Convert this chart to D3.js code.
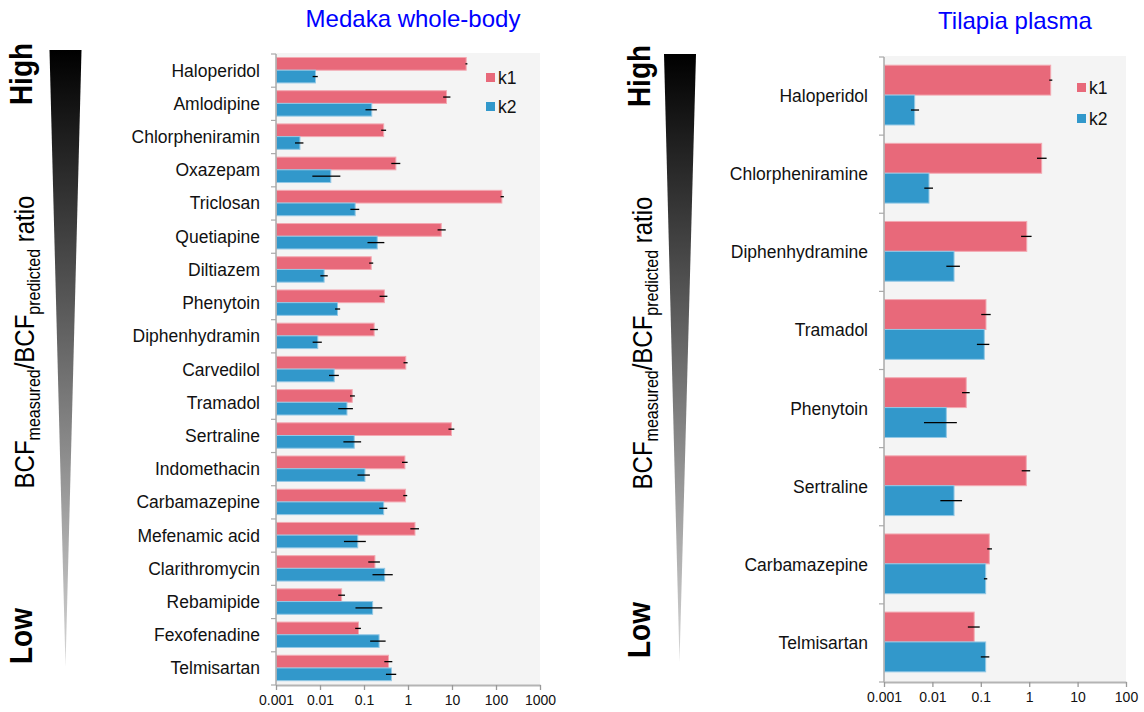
<!DOCTYPE html>
<html>
<head>
<meta charset="utf-8">
<script src="https://cdn.jsdelivr.net/npm/d3@7"></script>
<style>
  body { margin: 0; background: #fff; }
  svg { display: block; font-family: "Liberation Sans", Arial, sans-serif; }
  .tick text { font-size: 14px; fill: #111; }
</style>
</head>
<body>
<svg id="chart" width="1144" height="712"></svg>
<script>
// ---- data ----
const medakaNames = ["Haloperidol", "Amlodipine", "Chlorpheniramin", "Oxazepam", "Triclosan", "Quetiapine",
  "Diltiazem", "Phenytoin", "Diphenhydramin", "Carvedilol", "Tramadol", "Sertraline", "Indomethacin",
  "Carbamazepine", "Mefenamic acid", "Clarithromycin", "Rebamipide", "Fexofenadine", "Telmisartan"];
const medakaK1   = [21, 7.5, 0.28, 0.53, 136, 5.7, 0.146, 0.29, 0.17, 0.89, 0.054, 9.7, 0.85, 0.88, 1.44, 0.177, 0.031, 0.075, 0.36];
const medakaK1Lo = [20.2, 6.3, 0.246, 0.417, 127, 4.7, 0.131, 0.226, 0.138, 0.79, 0.048, 8.3, 0.73, 0.78, 1.13, 0.125, 0.026, 0.063, 0.29];
const medakaK1Hi = [22.4, 9.2, 0.318, 0.668, 151, 7.2, 0.162, 0.34, 0.207, 0.98, 0.062, 11.3, 0.98, 0.96, 1.78, 0.23, 0.037, 0.085, 0.44];
const medakaK2   = [0.0079, 0.15, 0.0035, 0.0176, 0.063, 0.2, 0.0124, 0.025, 0.0089, 0.021, 0.041, 0.06, 0.105, 0.28, 0.072, 0.295, 0.157, 0.22, 0.42];
const medakaK2Lo = [0.0068, 0.108, 0.0027, 0.0067, 0.049, 0.12, 0.0102, 0.022, 0.0068, 0.016, 0.026, 0.034, 0.071, 0.222, 0.035, 0.156, 0.064, 0.138, 0.315];
const medakaK2Hi = [0.0089, 0.196, 0.0042, 0.029, 0.078, 0.29, 0.015, 0.0287, 0.011, 0.0268, 0.056, 0.086, 0.136, 0.337, 0.11, 0.45, 0.26, 0.31, 0.54];

const tilapiaNames = ["Haloperidol", "Chlorpheniramine", "Diphenhydramine", "Tramadol", "Phenytoin", "Sertraline", "Carbamazepine", "Telmisartan"];
const tilapiaK1   = [2.78, 1.81, 0.89, 0.128, 0.05, 0.87, 0.15, 0.073];
const tilapiaK1Lo = [2.6, 1.45, 0.68, 0.102, 0.041, 0.7, 0.136, 0.054];
const tilapiaK1Hi = [3.0, 2.29, 1.12, 0.16, 0.059, 1.05, 0.17, 0.095];
const tilapiaK2   = [0.0043, 0.0085, 0.028, 0.118, 0.0194, 0.028, 0.126, 0.126];
const tilapiaK2Lo = [0.0036, 0.0068, 0.0194, 0.083, 0.0067, 0.0146, 0.116, 0.1];
const tilapiaK2Hi = [0.0053, 0.0103, 0.037, 0.15, 0.032, 0.041, 0.136, 0.15];

const seriesNames = ["k1", "k2"];
const medakaTicks = [0.001, 0.01, 0.1, 1, 10, 100, 1000];
const medakaTickLabels = ["0.001", "0.01", "0.1", "1", "10", "100", "1000"];
const tilapiaTicks = [0.001, 0.01, 0.1, 1, 10, 100];
const tilapiaTickLabels = ["0.001", "0.01", "0.1", "1", "10", "100"];

// ---- styles ----
const colour = d3.scaleOrdinal().domain(seriesNames).range(["#e8697a", "#3298cb"]);
const edge = d3.scaleOrdinal().domain(seriesNames).range(["#f3a9b2", "#93c8e5"]);
const svg = d3.select("#chart");

const defs = svg.append("defs");
const grad = defs.append("linearGradient").attr("id", "fade").attr("x1", 0).attr("y1", 0).attr("x2", 0).attr("y2", 1);
grad.append("stop").attr("offset", "0%").attr("stop-color", "#000");
grad.append("stop").attr("offset", "100%").attr("stop-color", "#d6d6d6");

function drawPanel(p) {
  const names = p.names;
  const rows = names.map((n, i) => ({
    name: n,
    vals: [
      {key: "k1", v: p.k1[i], lo: p.k1Lo[i], hi: p.k1Hi[i]},
      {key: "k2", v: p.k2[i], lo: p.k2Lo[i], hi: p.k2Hi[i]}
    ]
  }));

  const x = d3.scaleLog().domain(d3.extent(p.ticks)).range([p.left, p.right]);
  const y = d3.scaleBand().domain(names).range([p.top, p.bottom]);
  const step = y.bandwidth();
  const sub = d3.scaleBand().domain(seriesNames).range([step * 0.105, step * 0.87]);

  const g = svg.append("g");
  g.append("rect").attr("x", p.left).attr("y", p.top - 1)
    .attr("width", p.right - p.left).attr("height", p.bottom - p.top + 1)
    .attr("fill", "#f4f4f4");

  // bars
  const row = g.selectAll("g.row").data(rows).join("g").attr("class", "row")
    .attr("transform", d => "translate(0," + y(d.name) + ")");
  row.selectAll("rect").data(d => d.vals).join("rect")
    .attr("x", x(p.ticks[0]) + 0.5)
    .attr("y", d => sub(d.key))
    .attr("width", d => x(d.v) - x(p.ticks[0]) - 0.5)
    .attr("height", sub.bandwidth())
    .attr("fill", d => colour(d.key))
    .attr("stroke", d => edge(d.key))
    .attr("stroke-width", 1);
  row.selectAll("line.err").data(d => d.vals).join("line").attr("class", "err")
    .attr("x1", d => x(d.lo)).attr("x2", d => x(d.hi))
    .attr("y1", d => sub(d.key) + sub.bandwidth() / 2)
    .attr("y2", d => sub(d.key) + sub.bandwidth() / 2)
    .attr("stroke", "#000").attr("stroke-width", 1.3);

  // category labels
  g.selectAll("text.cat").data(names).join("text").attr("class", "cat")
    .attr("x", p.labelX).attr("y", d => y(d) + step / 2 + 6)
    .attr("text-anchor", "end").attr("font-size", 17.5).attr("fill", "#111")
    .text(d => d);

  // y axis line + boundary ticks
  g.append("line").attr("x1", p.left).attr("x2", p.left).attr("y1", p.top).attr("y2", p.bottom)
    .attr("stroke", "#aaa").attr("stroke-width", 1.5);
  g.selectAll("line.yt").data(d3.range(names.length + 1)).join("line").attr("class", "yt")
    .attr("x1", p.left - 5).attr("x2", p.left)
    .attr("y1", i => p.top + i * step).attr("y2", i => p.top + i * step)
    .attr("stroke", "#aaa").attr("stroke-width", 1.2);

  // x axis
  const xAxis = d3.axisBottom(x).tickValues(p.ticks)
    .tickFormat((d, i) => p.tickLabels[i]).tickSize(5).tickSizeOuter(0);
  const ax = g.append("g").attr("transform", "translate(0," + p.bottom + ")").call(xAxis);
  ax.select(".domain").attr("stroke", "#b4b4b4").attr("stroke-width", 2);
  ax.selectAll(".tick line").attr("stroke", "#999").attr("stroke-width", 1.3);
  ax.selectAll(".tick text").attr("y", 10);

  // legend
  const leg = g.selectAll("g.leg").data(seriesNames).join("g").attr("class", "leg")
    .attr("transform", (d, i) => "translate(" + p.legX + "," + (p.legY + i * p.legStep) + ")");
  leg.append("rect").attr("width", 9).attr("height", 9).attr("fill", d => colour(d));
  leg.append("text").attr("x", 12).attr("y", 11).attr("font-size", 17.5).attr("fill", "#111").text(d => d);

  // title
  svg.append("text").attr("x", p.titleX).attr("y", p.titleY).attr("text-anchor", "middle")
    .attr("font-size", 24).attr("fill", "#0000ff").text(p.title);

  // high / low wedge
  const w = p.wedge;
  svg.append("path")
    .attr("d", "M" + w.x0 + "," + w.top + "L" + w.x1 + "," + w.top + "L" + w.tip + "," + w.bottom + "Z")
    .attr("fill", "url(#fade)");

  const rot = (tx, ty) => "translate(" + tx + "," + ty + ") scale(1.12,1) rotate(-90)";
  svg.append("text").attr("transform", rot(p.sideX, p.highY)).attr("text-anchor", "middle")
    .attr("font-size", 28).attr("font-weight", "bold").attr("fill", "#000").text("High");
  svg.append("text").attr("transform", rot(p.sideX, p.lowY)).attr("text-anchor", "middle")
    .attr("font-size", 28).attr("font-weight", "bold").attr("fill", "#000").text("Low");
  const lab = svg.append("text").attr("transform", rot(p.sideX + 2, p.ratioY)).attr("text-anchor", "middle")
    .attr("font-size", 24).attr("fill", "#000");
  lab.append("tspan").text("BCF");
  lab.append("tspan").attr("font-size", 16).attr("dy", 5).text("measured");
  lab.append("tspan").attr("dy", -5).text("/BCF");
  lab.append("tspan").attr("font-size", 16).attr("dy", 5).text("predicted");
  lab.append("tspan").attr("dy", -5).text(" ratio");
}

drawPanel({
  names: medakaNames, k1: medakaK1, k1Lo: medakaK1Lo, k1Hi: medakaK1Hi,
  k2: medakaK2, k2Lo: medakaK2Lo, k2Hi: medakaK2Hi,
  ticks: medakaTicks, tickLabels: medakaTickLabels,
  left: 276, right: 540, top: 54, bottom: 685, labelX: 260,
  legX: 486, legY: 73, legStep: 29,
  title: "Medaka whole-body", titleX: 413, titleY: 27,
  wedge: {x0: 49.5, x1: 81.5, tip: 65.5, top: 50, bottom: 667},
  sideX: 32, highY: 74, lowY: 636, ratioY: 342
});

drawPanel({
  names: tilapiaNames, k1: tilapiaK1, k1Lo: tilapiaK1Lo, k1Hi: tilapiaK1Hi,
  k2: tilapiaK2, k2Lo: tilapiaK2Lo, k2Hi: tilapiaK2Hi,
  ticks: tilapiaTicks, tickLabels: tilapiaTickLabels,
  left: 884, right: 1126, top: 57, bottom: 682, labelX: 868,
  legX: 1077, legY: 83, legStep: 31,
  title: "Tilapia plasma", titleX: 1015, titleY: 29,
  wedge: {x0: 664, x1: 696, tip: 679.5, top: 54, bottom: 662},
  sideX: 650, highY: 76, lowY: 630, ratioY: 343
});
</script>
</body>
</html>
